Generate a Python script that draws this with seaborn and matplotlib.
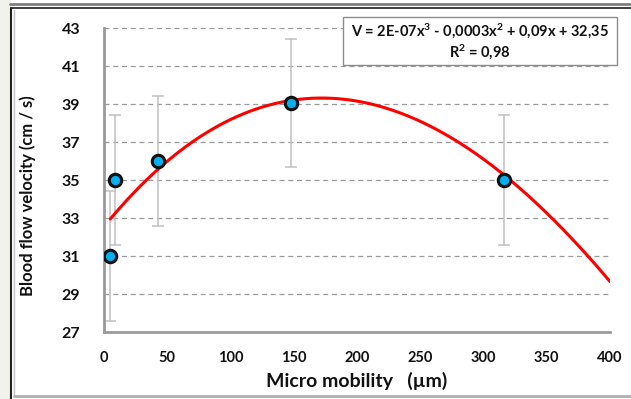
import numpy as np
import pandas as pd
import matplotlib
matplotlib.use("Agg")
import matplotlib.pyplot as plt
import seaborn as sns
from matplotlib.patches import Rectangle
from matplotlib.lines import Line2D

# Data
mobility = [5, 9, 43, 148, 316]
velocity = [31.0, 35.0, 36.0, 39.05, 35.0]
err = [3.4, 3.4, 3.4, 3.35, 3.4]
# trendline samples
trend_x = [5, 43, 100, 165, 200, 250, 316, 350, 400]
trend_y = [33.0, 35.6, 38.0, 39.3, 39.15, 38.5, 35.0, 33.1, 29.8]
x_ticks = [0, 50, 100, 150, 200, 250, 300, 350, 400]
y_ticks = [27, 29, 31, 33, 35, 37, 39, 41, 43]
equation = "V = 2E-07x$^{3}$ - 0,0003x$^{2}$ + 0,09x + 32,35"
r2_text = "R$^{2}$ = 0,98"

sns.set_theme(style="white")
plt.rcParams['font.family'] = ['Lato', 'DejaVu Sans']
plt.rcParams['mathtext.fontset'] = 'custom'
plt.rcParams['mathtext.rm'] = 'Lato:bold'
plt.rcParams['mathtext.it'] = 'Lato:bold'
plt.rcParams['mathtext.bf'] = 'Lato:bold'

fig = plt.figure(figsize=(6.31, 3.99), dpi=100)
fig.patch.set_facecolor("white")

# outer frame decorations
fig.add_artist(Rectangle((0, 0), 10/631, 1, transform=fig.transFigure, color="#f2f2ec", zorder=0))
fig.add_artist(Line2D([11/631, 11/631], [0, 1 - 8/399], transform=fig.transFigure, color="#202020", lw=1.5))
fig.add_artist(Line2D([11/631, 1], [1 - 8/399, 1 - 8/399], transform=fig.transFigure, color="#202020", lw=1.2))
fig.add_artist(Line2D([10/631, 1], [1 - 4/399, 1 - 4/399], transform=fig.transFigure, color="#808080", lw=2))
fig.add_artist(Line2D([14/631, 14/631], [3/399, 1 - 10/399], transform=fig.transFigure, color="#c0c0c0", lw=1))
fig.add_artist(Line2D([14/631, 1], [3/399, 3/399], transform=fig.transFigure, color="#b0b0b0", lw=2))

ax = fig.add_axes([104/631, 1 - 332/399, 506/631, 304/399])
ax.set_facecolor("white")

df = pd.DataFrame({"mobility": mobility, "velocity": velocity, "err": err})

# gridlines
for yv in y_ticks[1:]:
    ax.axhline(yv, color="#9a9a9a", lw=0.9, ls=(0, (4, 3)), zorder=0)

# error bars
ax.errorbar(df["mobility"], df["velocity"], yerr=df["err"], fmt="none",
            ecolor="#c0c0c0", elinewidth=1.1, capsize=4, capthick=1.1, zorder=2)

# smooth cubic trendline through the samples
coef = np.polyfit(trend_x, trend_y, 3)
xs = np.linspace(trend_x[0], trend_x[-1], 400)
trend = pd.DataFrame({"x": xs, "y": np.polyval(coef, xs)})
sns.lineplot(data=trend, x="x", y="y", ax=ax, color="#ff0000", lw=2.2, zorder=3)

sns.scatterplot(data=df, x="mobility", y="velocity", ax=ax, s=80, color="#00b0f0",
                edgecolor="#111111", linewidth=2.2, zorder=4)

ax.set_xlim(0, 400)
ax.set_ylim(27, 43)
ax.set_xticks(x_ticks)
ax.set_yticks(y_ticks)
ax.set_xticklabels([str(v) for v in x_ticks], fontsize=10.5, fontweight="bold", color="#111111")
ax.set_yticklabels([str(v) for v in y_ticks], fontsize=11.5, fontweight="bold", color="#111111")
ax.tick_params(axis="both", length=4, width=1.5, color="#999999", direction="out")
ax.tick_params(axis="x", pad=10)
ax.tick_params(axis="y", pad=13)

for s in ["top", "right"]:
    ax.spines[s].set_visible(False)
for s in ["left", "bottom"]:
    ax.spines[s].set_color("#9a9a9a")
    ax.spines[s].set_linewidth(2)

ax.set_xlabel("Micro mobility   (µm)", fontsize=14, fontweight="bold", color="#111111", labelpad=5)
ax.set_ylabel("Blood flow velocity (cm / s)", fontsize=12, fontweight="bold", color="#111111")
ax.yaxis.set_label_coords(-0.135, 0.45)

# equation box
fig.add_artist(Rectangle((343/631, 1 - 65/399), 274/631, 48/399, transform=fig.transFigure,
                         facecolor="white", edgecolor="#8c8c8c", lw=1, zorder=5))
fig.text(480/631, 1 - 31/399, equation, ha="center", va="center", fontsize=10.5,
         fontweight="bold", color="#111111", zorder=6)
fig.text(480/631, 1 - 52/399, r2_text, ha="center", va="center", fontsize=10.5,
         fontweight="bold", color="#111111", zorder=6)

fig.savefig("out.png", dpi=100)
